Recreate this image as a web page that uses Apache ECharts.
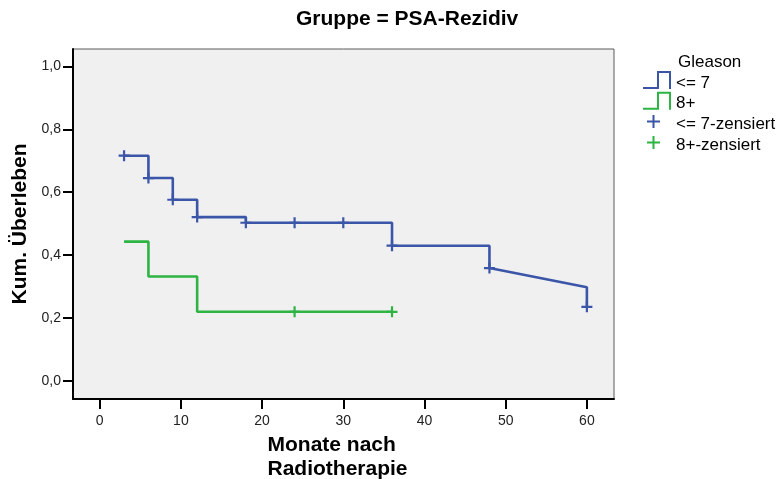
<!DOCTYPE html>
<html>
<head>
<meta charset="utf-8">
<script src="https://cdn.jsdelivr.net/npm/echarts@6/dist/echarts.min.js"></script>
<style>
html,body{margin:0;padding:0;background:#fff;}
#chart{width:778px;height:479px;}
</style>
</head>
<body>
<div id="chart"></div>
<script>
// ---- data ----
const chartTitle = 'Gruppe = PSA-Rezidiv';
const legendTitle = 'Gleason';
const groupNames = ['<= 7', '8+'];
const censorNames = ['<= 7-zensiert', '8+-zensiert'];

// Group "<= 7": step start times and survival level from that time on
const lowTimes = [3, 6, 9, 12, 18, 36, 48];
const lowSurv = [0.716, 0.645, 0.576, 0.521, 0.503, 0.430, 0.359];
// last follow-up: line ends at 60 (drawn sloped in reference), then drops
const lowEndTime = 60;
const lowEndLevel = 0.298;
const lowFinalSurv = 0.236;
const lowCensorTimes = [3, 6, 9, 12, 18, 24, 30, 36, 48, 60];
const lowCensorSurv = [0.716, 0.645, 0.576, 0.521, 0.503, 0.503, 0.503, 0.430, 0.359, 0.236];

// Group "8+"
const highTimes = [3, 6, 12];
const highSurv = [0.443, 0.332, 0.220];
const highEndTime = 36;
const highCensorTimes = [24, 36];
const highCensorSurv = [0.220, 0.220];

// axis ticks
const xTicks = [0, 10, 20, 30, 40, 50, 60];
const yTicks = [0, 0.2, 0.4, 0.6, 0.8, 1.0];

// ---- build step paths ----
function stepPath(times, surv, endTime) {
  const pts = [];
  for (let i = 0; i < times.length; i++) {
    pts.push([times[i], surv[i]]);
    const next = i + 1 < times.length ? times[i + 1] : endTime;
    pts.push([next, surv[i]]);
  }
  return pts;
}
const lowPath = stepPath(lowTimes, lowSurv, lowTimes[lowTimes.length - 1]);
lowPath.pop();
lowPath.push([lowEndTime, lowEndLevel]);
lowPath.push([lowEndTime, lowFinalSurv]);
const highPath = stepPath(highTimes, highSurv, highEndTime);

const lowCensor = lowCensorTimes.map((t, i) => [t, lowCensorSurv[i]]);
const highCensor = highCensorTimes.map((t, i) => [t, highCensorSurv[i]]);

const BLUE = '#3b55a8';
const GREEN = '#2db443';
const FONT = '"Liberation Sans", Arial, Helvetica, sans-serif';

const plusSymbol = 'path://M0,4 L4,4 L4,0 L6,0 L6,4 L10,4 L10,6 L6,6 L6,10 L4,10 L4,6 L0,6 Z';
// legend icons live in a 28x24 box; the drawn part sits in the upper 18px
const stepIcon = 'path://M0,0 M28,24 M0,16 L14,16 L14,0 L28,0 L28,18 L26,18 L26,2 L16,2 L16,18 L0,18 Z';
const plusIcon = 'path://M0,0 M28,24 M4,8 L9.5,8 L9.5,2.5 L11.5,2.5 L11.5,8 L17,8 L17,10 L11.5,10 L11.5,15.5 L9.5,15.5 L9.5,10 L4,10 Z';

const chart = echarts.init(document.getElementById('chart'), null, {renderer: 'canvas'});
chart.setOption({
  animation: false,
  backgroundColor: '#ffffff',
  textStyle: {fontFamily: FONT},
  title: [
    {
      text: chartTitle,
      left: 291,
      top: 4,
      textStyle: {fontFamily: FONT, fontWeight: 'bold', fontSize: 21, color: '#000'}
    },
    {
      text: legendTitle,
      left: 678,
      top: 54,
      padding: 0,
      textStyle: {fontFamily: FONT, fontWeight: 'normal', fontSize: 17, color: '#000'}
    }
  ],
  legend: {
    orient: 'vertical',
    left: 643,
    top: 71,
    padding: 0,
    itemWidth: 28,
    itemHeight: 24,
    itemGap: -3.2,
    itemStyle: {borderWidth: 0},
    textStyle: {fontFamily: FONT, fontSize: 17, color: '#000'},
    selectedMode: false,
    data: [
      {name: groupNames[0], icon: stepIcon, itemStyle: {color: BLUE, borderWidth: 0}},
      {name: groupNames[1], icon: stepIcon, itemStyle: {color: GREEN, borderWidth: 0}},
      {name: censorNames[0], icon: plusIcon, itemStyle: {color: BLUE, borderWidth: 0}},
      {name: censorNames[1], icon: plusIcon, itemStyle: {color: GREEN, borderWidth: 0}}
    ]
  },
  grid: {
    left: 73, right: 164, top: 49, bottom: 80,
    outerBoundsMode: 'none',
    containLabel: false,
    show: true,
    backgroundColor: '#f0f0f0',
    borderColor: '#5a5a5a',
    borderWidth: 1
  },
  xAxis: {
    type: 'value',
    min: -3.29,
    max: 63.34,
    name: '{a|Monate nach}\n{a|Radiotherapie}',
    nameLocation: 'middle',
    nameGap: 34,
    nameTextStyle: {
      rich: {a: {fontFamily: FONT, fontWeight: 'bold', fontSize: 21, color: '#000', width: 152, align: 'left', lineHeight: 24}}
    },
    axisLine: {onZero: false, lineStyle: {color: '#000', width: 2}},
    axisTick: {show: true, inside: false, length: 10, lineStyle: {color: '#000', width: 2}, customValues: xTicks},
    axisLabel: {customValues: xTicks, margin: 15, fontFamily: FONT, fontSize: 14, color: '#222',
      formatter: v => String(Math.round(v))},
    splitLine: {show: false}
  },
  yAxis: {
    type: 'value',
    min: -0.057,
    max: 1.055,
    name: 'Kum. Überleben',
    nameLocation: 'middle',
    nameGap: 40,
    nameTextStyle: {fontFamily: FONT, fontWeight: 'bold', fontSize: 21, color: '#000'},
    axisLine: {onZero: false, lineStyle: {color: '#000', width: 2}},
    axisTick: {show: true, inside: false, length: 10, lineStyle: {color: '#000', width: 2}, customValues: yTicks},
    axisLabel: {customValues: yTicks, margin: 12, fontFamily: FONT, fontSize: 14, color: '#222',
      formatter: v => v.toFixed(1).replace('.', ',')},
    splitLine: {show: false}
  },
  series: [
    {
      name: groupNames[0], type: 'line', data: lowPath, showSymbol: false, silent: true,
      lineStyle: {color: BLUE, width: 2.6}, itemStyle: {color: BLUE}, z: 2
    },
    {
      name: groupNames[1], type: 'line', data: highPath, showSymbol: false, silent: true,
      lineStyle: {color: GREEN, width: 2.6}, itemStyle: {color: GREEN}, z: 2
    },
    {
      name: censorNames[0], type: 'scatter', data: lowCensor, symbol: plusSymbol, symbolSize: 11, silent: true,
      itemStyle: {color: BLUE, opacity: 1}, z: 3
    },
    {
      name: censorNames[1], type: 'scatter', data: highCensor, symbol: plusSymbol, symbolSize: 11, silent: true,
      itemStyle: {color: GREEN, opacity: 1}, z: 3
    }
  ]
});
</script>
</body>
</html>
